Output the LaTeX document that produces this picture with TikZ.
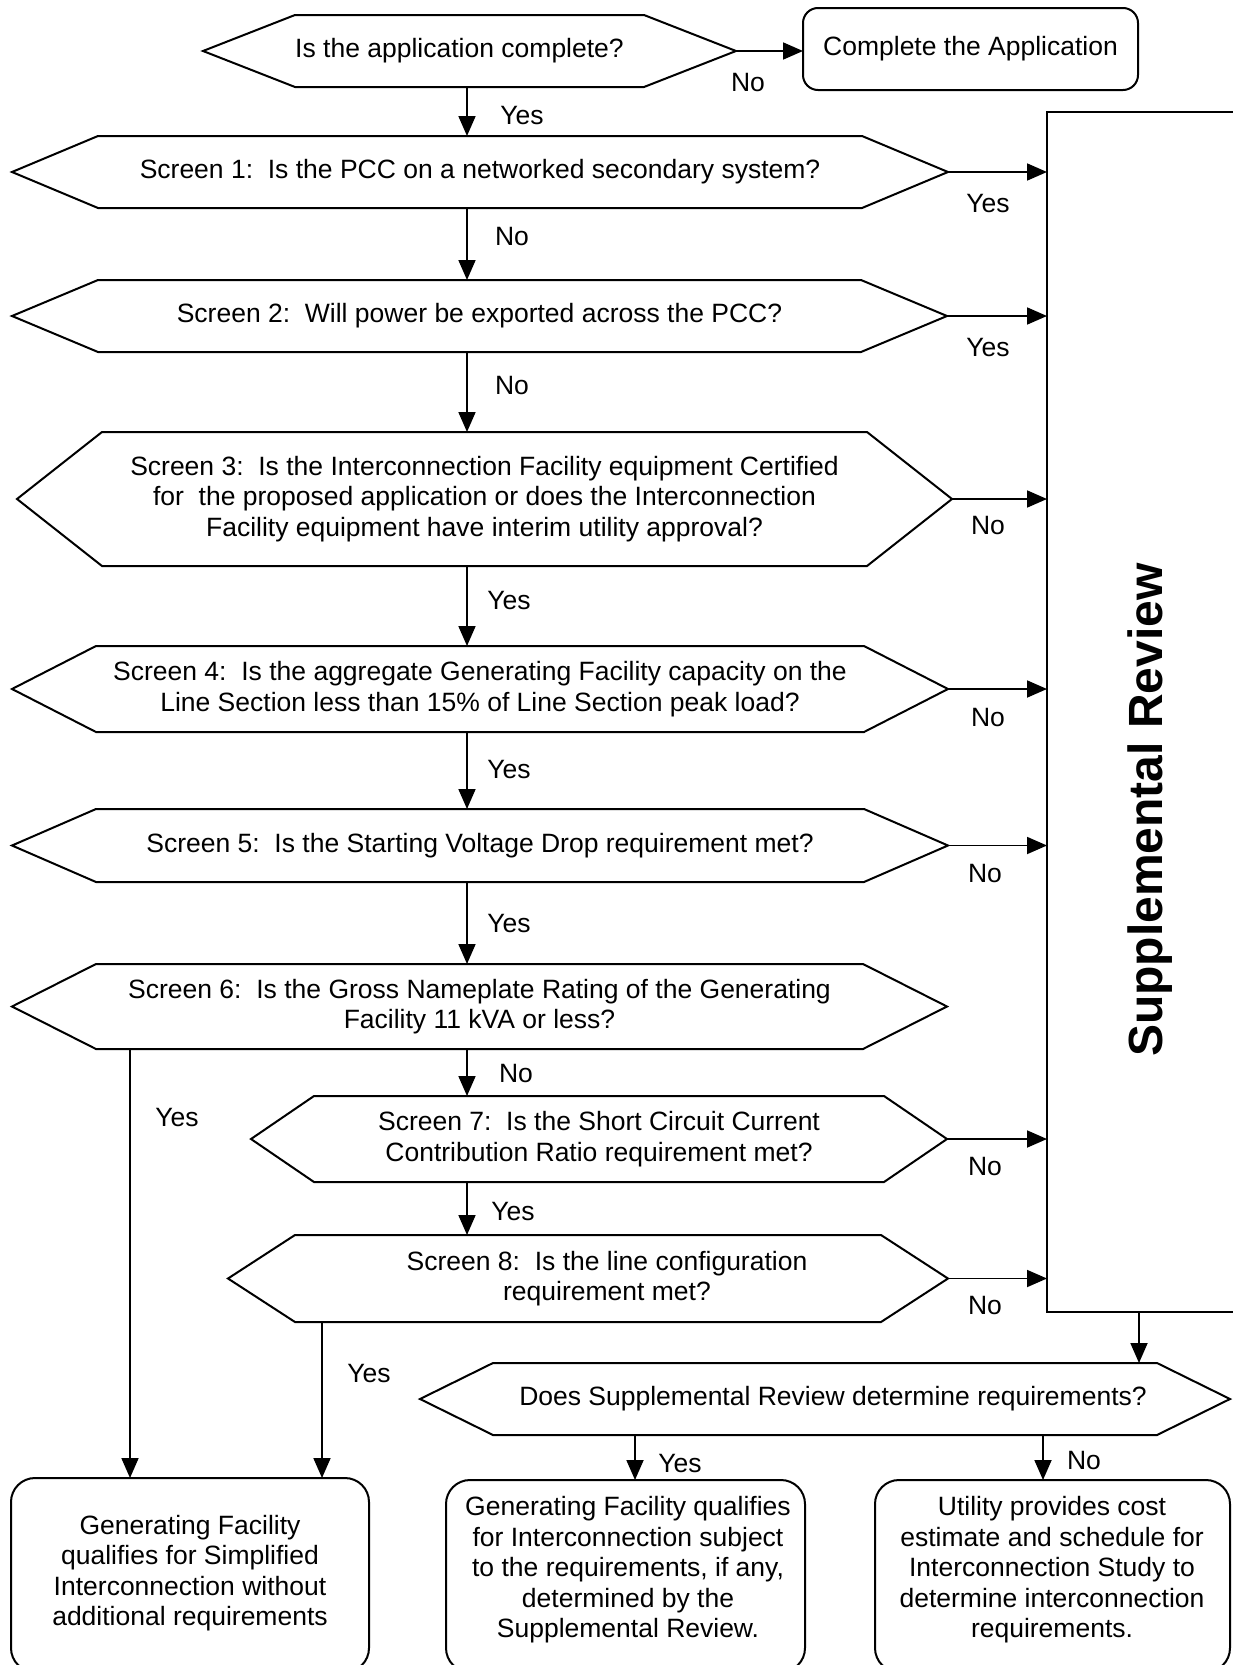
\documentclass[tikz,border=0pt]{standalone}
\usepackage{fontspec}
\setmainfont{Liberation Sans}
\usetikzlibrary{arrows.meta}
\newcommand\hexq[8]{%
  \node[hexbox, minimum width=#4pt, minimum height=#5pt] (#1) at (#2,#3) {};
  \draw[hexline] (#1.west) -- ([xshift=#6pt]#1.north west) -- ([xshift=-#6pt]#1.north east) -- (#1.east) -- ([xshift=-#6pt]#1.south east) -- ([xshift=#6pt]#1.south west) -- cycle;
  \node[qtext] (#1-t) at ([xshift=#7pt]#1.center) {#8};
}
\begin{document}
\begin{tikzpicture}[x=1pt,y=-1pt,
  every node/.style={font=\fontsize{26.5}{30.5}\selectfont},
  hexbox/.style={draw=none, inner sep=0pt, outer sep=0pt},
  hexline/.style={draw=black, line width=2pt, line join=miter},
  qtext/.style={align=center, inner sep=0pt},
  lbl/.style={inner sep=0pt},
  rbox/.style={draw=black, line width=2pt, rounded corners=#1, inner sep=0pt, outer sep=0pt},
  rbox/.default=24pt,
  arr/.style={line width=1.8pt, -{Triangle[length=20pt,width=17pt]}},
]
\fill[white] (0,0) rectangle (1232,1665);
\useasboundingbox (0,0) rectangle (1232,1665);

% columns
\coordinate (c467) at (467,0);
\coordinate (c130) at (130,0);
\coordinate (c322) at (322,0);
\coordinate (c1139) at (1139,0);
\coordinate (c635) at (635,0);
\coordinate (c1043) at (1043,0);

% decisions
\hexq{q0}{469.5}{51}{533}{72}{92}{-10}{Is the application complete?}
\hexq{s1}{480}{172}{936}{72}{86}{0}{Screen 1:\ \ Is the PCC on a networked secondary system?}
\hexq{s2}{479.5}{316}{935}{72}{86}{0}{Screen 2:\ \ Will power be exported across the PCC?}
\hexq{s3}{484.5}{499}{935}{134}{85}{0}{Screen 3:\ \ Is the Interconnection Facility equipment Certified\\for\ \ the proposed application or does the Interconnection\\Facility equipment have interim utility approval?}
\hexq{s4}{480}{689}{936}{86}{84}{0}{Screen 4:\ \ Is the aggregate Generating Facility capacity on the\\Line Section less than 15\% of Line Section peak load?}
\hexq{s5}{480}{845.5}{936}{73}{84}{0}{Screen 5:\ \ Is the Starting Voltage Drop requirement met?}
\hexq{s6}{479.5}{1006.5}{935}{85}{84}{0}{Screen 6:\ \ Is the Gross Nameplate Rating of the Generating\\Facility 11 kVA or less?}
\hexq{s7}{599}{1139}{696}{86}{63}{0}{Screen 7:\ \ Is the Short Circuit Current\\Contribution Ratio requirement met?}
\hexq{s8}{588}{1278.5}{720}{87}{67}{19}{Screen 8:\ \ Is the line configuration\\requirement met?}
\hexq{qf}{825}{1399}{810}{72}{73}{8}{Does Supplemental Review determine requirements?}

% boxes
\node[rbox=15pt, minimum width=335pt, minimum height=82pt] (cb) at (970.5,49) {Complete the Application};
\node[draw=black, line width=2pt, inner sep=0pt, outer sep=0pt, anchor=north west, minimum width=260pt, minimum height=1200pt] (sr) at (1047,112) {};
\node[font=\fontsize{48}{50}\selectfont\bfseries, rotate=90, anchor=base, inner sep=0pt] (srt) at (1162,810) {Supplemental Review};

\node[rbox, minimum width=358pt, minimum height=194pt] (lb) at (190,1575) {};
\node[rbox, minimum width=359pt, minimum height=192pt] (mb) at (625.5,1576) {};
\node[rbox, minimum width=355pt, minimum height=192pt] (rb) at (1052.5,1576) {};
\node[qtext] (lbt) at (190,1573) {Generating Facility\\qualifies for Simplified\\Interconnection without\\additional requirements};
\node[qtext] (mbt) at (628,1570) {Generating Facility qualifies\\for Interconnection subject\\to the requirements, if any,\\determined by the\\Supplemental Review.};
\node[qtext] (rbt) at (1052,1570) {Utility provides cost\\estimate and schedule for\\Interconnection Study to\\determine interconnection\\requirements.};

% connectors
\draw[arr] (q0.east) -- (q0.east -| cb.west);
\draw[arr] (c467 |- q0.south) -- (c467 |- s1.north);
\draw[arr] (c467 |- s1.south) -- (c467 |- s2.north);
\draw[arr] (c467 |- s2.south) -- (c467 |- s3.north);
\draw[arr] (c467 |- s3.south) -- (c467 |- s4.north);
\draw[arr] (c467 |- s4.south) -- (c467 |- s5.north);
\draw[arr] (c467 |- s5.south) -- (c467 |- s6.north);
\draw[arr] (c467 |- s6.south) -- (c467 |- s7.north);
\draw[arr] (c467 |- s7.south) -- (c467 |- s8.north);
\foreach \n in {s1,s2,s3,s4,s5,s7,s8}{
  \draw[arr] (\n.east) -- (\n.east -| sr.west);
}
\draw[arr] (c130 |- s6.south) -- (c130 |- lb.north);
\draw[arr] (c322 |- s8.south) -- (c322 |- lb.north);
\draw[arr] (c1139 |- sr.south) -- (c1139 |- qf.north);
\draw[arr] (c635 |- qf.south) -- (c635 |- mb.north);
\draw[arr] (c1043 |- qf.south) -- (c1043 |- rb.north);

% labels
\node[lbl] (l0n) at (748,83) {No};
\node[lbl] (l0y) at (522,116) {Yes};
\node[lbl] (l1y) at (988,204) {Yes};
\node[lbl] (l1n) at (512,237) {No};
\node[lbl] (l2y) at (988,348) {Yes};
\node[lbl] (l2n) at (512,386) {No};
\node[lbl] (l3n) at (988,526) {No};
\node[lbl] (l3y) at (509,601) {Yes};
\node[lbl] (l4n) at (988,718) {No};
\node[lbl] (l4y) at (509,770) {Yes};
\node[lbl] (l5n) at (985,874) {No};
\node[lbl] (l5y) at (509,924) {Yes};
\node[lbl] (l6n) at (516,1074) {No};
\node[lbl] (l6y) at (177,1117) {Yes};
\node[lbl] (l7n) at (985,1166) {No};
\node[lbl] (l7y) at (513,1211) {Yes};
\node[lbl] (l8n) at (985,1305) {No};
\node[lbl] (l8y) at (369,1373) {Yes};
\node[lbl] (lfy) at (680,1463) {Yes};
\node[lbl] (lfn) at (1084,1460) {No};
\end{tikzpicture}
\end{document}
